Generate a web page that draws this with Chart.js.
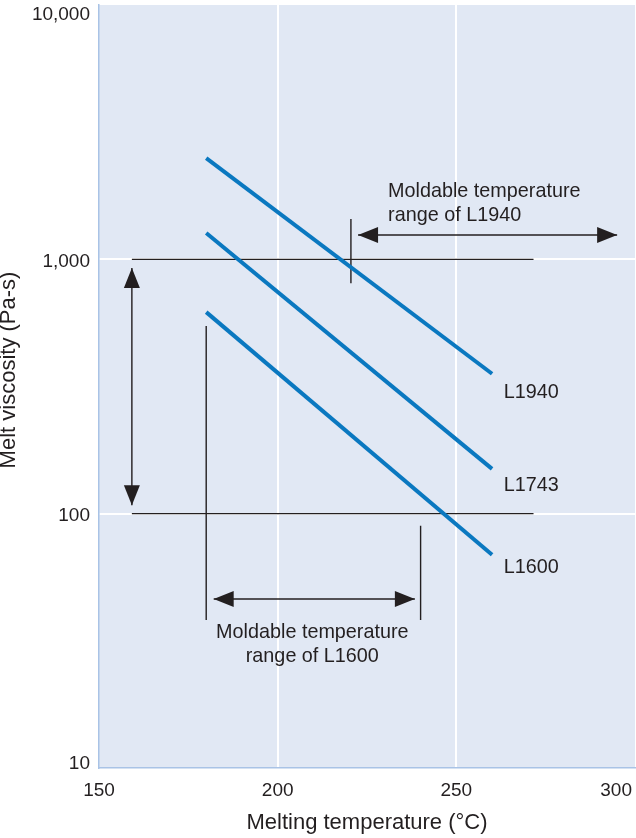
<!DOCTYPE html>
<html>
<head>
<meta charset="utf-8">
<script src="https://cdn.jsdelivr.net/npm/chart.js@4/dist/chart.umd.min.js"></script>
<style>
  html, body { margin: 0; padding: 0; background: #fff; }
  #wrap { width: 636px; height: 838px; position: relative; }
</style>
</head>
<body>
<div id="wrap"><canvas id="chart"></canvas></div>
<script>
// --- data ---
const tempRange = [180, 260];          // °C, start/end of each grade line
const viscL1940 = [2500, 355];         // Pa-s
const viscL1743 = [1270, 150];
const viscL1600 = [620, 69];
const gradeNames = ['L1940', 'L1743', 'L1600'];

const xTicks = [150, 200, 250, 300];
const yTicks = [10, 100, 1000, 10000];

// guide lines / arrows (data units)
const guideLines = [
  { x: [159.2, 271.6], y: [1000, 1000] },
  { x: [159.2, 271.6], y: [100, 100] },
  { x: [220.5, 220.5], y: [1441, 805] },
  { x: [180, 180],     y: [547, 38.2] },
  { x: [240, 240],     y: [89.7, 38.2] }
];
const guideArrows = [
  { x: [159.2, 159.2], y: [924, 108] },
  { x: [222.5, 295.0], y: [1246, 1246] },
  { x: [182.1, 238.4], y: [46.2, 46.2] }
];

// text labels (data units for anchor)
const notes = [
  { text: 'L1940', x: 263.3, y: 284, align: 'left' },
  { text: 'L1743', x: 263.3, y: 122.8, align: 'left' },
  { text: 'L1600', x: 263.3, y: 58.3, align: 'left' },
  { text: 'Moldable temperature', x: 230.9, y: 1763, align: 'left' },
  { text: 'range of L1940', x: 230.9, y: 1415, align: 'left' },
  { text: 'Moldable temperature', x: 209.7, y: 32.4, align: 'center' },
  { text: 'range of L1600', x: 209.7, y: 26.2, align: 'center' }
];

const BLUE = '#0a78c0';
const INK = '#231f20';
const FONT = '"Liberation Sans", Arial, sans-serif';

const toPts = (xs, ys) => xs.map((x, i) => ({ x, y: ys[i] }));

const gradeSets = [viscL1940, viscL1743, viscL1600].map((v, i) => ({
  label: gradeNames[i],
  data: toPts(tempRange, v),
  borderColor: BLUE,
  borderWidth: 4,
  borderCapStyle: 'butt',
  showLine: true,
  pointRadius: 0
}));

const guideSets = guideLines.map(g => ({
  data: toPts(g.x, g.y),
  borderColor: INK,
  borderWidth: 1.4,
  showLine: true,
  pointRadius: 0
}));

const arrowSets = guideArrows.map(g => ({
  data: toPts(g.x, g.y),
  borderColor: INK,
  borderWidth: 1.4,
  showLine: true,
  pointRadius: 0,
  arrowEnds: true
}));

// plot background, arrowheads, tick labels and annotations
const decor = {
  id: 'decor',
  beforeDraw(chart) {
    const { ctx, chartArea: a } = chart;
    ctx.save();
    ctx.fillStyle = '#e1e8f4';
    ctx.fillRect(a.left, a.top, a.right - a.left, a.bottom - a.top);
    ctx.restore();
  },
  afterDatasetsDraw(chart) {
    const ctx = chart.ctx;
    ctx.save();
    ctx.fillStyle = INK;
    chart.data.datasets.forEach((ds, i) => {
      if (!ds.arrowEnds) return;
      const pts = chart.getDatasetMeta(i).data;
      const ends = [[pts[pts.length - 1], pts[pts.length - 2]], [pts[0], pts[1]]];
      ends.forEach(([tip, prev]) => {
        const ang = Math.atan2(tip.y - prev.y, tip.x - prev.x);
        const len = 20, half = 8;
        const bx = tip.x - Math.cos(ang) * len, by = tip.y - Math.sin(ang) * len;
        ctx.beginPath();
        ctx.moveTo(tip.x, tip.y);
        ctx.lineTo(bx - Math.sin(ang) * half, by + Math.cos(ang) * half);
        ctx.lineTo(bx + Math.sin(ang) * half, by - Math.cos(ang) * half);
        ctx.closePath();
        ctx.fill();
      });
    });
    ctx.restore();
  },
  afterDraw(chart) {
    const { ctx, chartArea: a } = chart;
    const xs = chart.scales.x, ys = chart.scales.y;
    ctx.save();
    ctx.fillStyle = INK;
    ctx.textBaseline = 'alphabetic';

    // tick labels
    ctx.font = '19px ' + FONT;
    const capH = 13.6;
    ctx.textAlign = 'right';
    yTicks.forEach((v, i) => {
      const py = ys.getPixelForValue(v);
      let base = py + capH / 2 + 0.5;
      if (i === yTicks.length - 1) base = py + capH + 1.5;
      if (i === 0) base = py + 1;
      ctx.fillText(v.toLocaleString('en-US'), a.left - 9, base);
    });
    ctx.textAlign = 'center';
    xTicks.forEach(v => {
      const px = xs.getPixelForValue(v);
      const w = ctx.measureText(String(v)).width;
      const cx = Math.min(px, chart.width - 4 - w / 2);
      ctx.fillText(String(v), cx, a.bottom + 28);
    });

    // axis titles
    ctx.font = '22px ' + FONT;
    ctx.fillText('Melting temperature (°C)', (a.left + a.right) / 2, a.bottom + 61);
    ctx.translate(15, 370);
    ctx.rotate(-Math.PI / 2);
    ctx.fillText('Melt viscosity (Pa-s)', 0, 0);
    ctx.setTransform(1, 0, 0, 1, 0, 0);

    // annotations
    ctx.font = '19.8px ' + FONT;
    notes.forEach(n => {
      ctx.textAlign = n.align;
      ctx.fillText(n.text, xs.getPixelForValue(n.x), ys.getPixelForValue(n.y));
    });
    ctx.restore();
  }
};

new Chart(document.getElementById('chart'), {
  type: 'scatter',
  data: { datasets: [...gradeSets, ...guideSets, ...arrowSets] },
  options: {
    responsive: true,
    maintainAspectRatio: false,
    animation: false,
    layout: { padding: { left: 99, right: 1, top: 5, bottom: 70 } },
    plugins: { legend: { display: false }, tooltip: { enabled: false } },
    scales: {
      x: {
        type: 'linear',
        min: xTicks[0],
        max: xTicks[xTicks.length - 1],
        afterBuildTicks: s => { s.ticks = xTicks.map(v => ({ value: v })); },
        ticks: { display: false },
        border: { display: true, color: '#a9c3e6', width: 1.5 },
        grid: {
          drawTicks: false,
          lineWidth: 2,
          color: c => (c.tick && c.tick.value > xTicks[0] && c.tick.value < xTicks[xTicks.length - 1]) ? '#ffffff' : 'rgba(0,0,0,0)'
        }
      },
      y: {
        type: 'logarithmic',
        min: yTicks[0],
        max: yTicks[yTicks.length - 1],
        afterBuildTicks: s => { s.ticks = yTicks.map(v => ({ value: v })); },
        ticks: { display: false },
        border: { display: true, color: '#a9c3e6', width: 1.5 },
        grid: {
          drawTicks: false,
          lineWidth: 2,
          color: c => (c.tick && c.tick.value > yTicks[0] && c.tick.value < yTicks[yTicks.length - 1]) ? '#ffffff' : 'rgba(0,0,0,0)'
        }
      }
    }
  },
  plugins: [decor]
});
</script>
</body>
</html>
